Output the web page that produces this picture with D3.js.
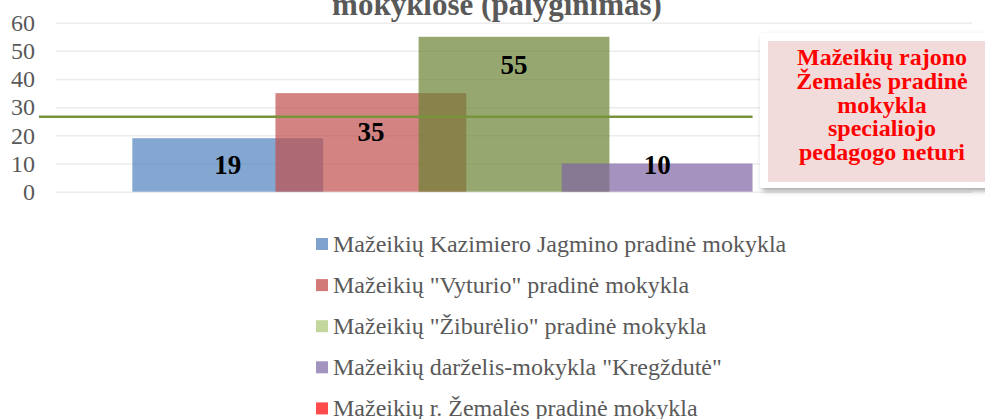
<!DOCTYPE html>
<html>
<head>
<meta charset="utf-8">
<script src="https://cdn.jsdelivr.net/npm/d3@7"></script>
<style>
  body { margin: 0; background: #fff; }
  svg { display: block; font-family: "Liberation Serif", "Times New Roman", serif; }
</style>
</head>
<body>
<div id="chart"></div>
<script>
var schools = [
    'Mažeikių Kazimiero Jagmino pradinė mokykla',
    'Mažeikių "Vyturio" pradinė mokykla',
    'Mažeikių "Žiburėlio" pradinė mokykla',
    'Mažeikių darželis-mokykla "Kregždutė"',
    'Mažeikių r. Žemalės pradinė mokykla'
]
var values = [19, 35, 55, 10, 0]
// where each data label sits, in value units (labels were placed by hand)
var labelAt = [9.5, 21.3, 45.2, 9.5, null]
var averageLine = 26.6
var yTicks = [0, 10, 20, 30, 40, 50, 60]
var noteLines = ['Mažeikių rajono', 'Žemalės pradinė', 'mokykla', 'specialiojo', 'pedagogo neturi']
var titleText = 'mokyklose (palyginimas)'

var barColors = ['rgba(79,129,189,0.7)', 'rgba(192,80,77,0.7)', 'rgba(105,131,51,0.7)', 'rgba(128,100,162,0.7)', 'rgba(255,0,0,0.7)']
var legendColors = ['#7fa3cd', '#d27a78', '#c3d69b', '#a393bf', '#ff4b4b']

var width = 985,
    height = 419,
    plot = {left: 56, right: 972, top: 22.7, bottom: 191.7}

var svg = d3.select('#chart').append('svg')
    .attr('width', width)
    .attr('height', height)

var defs = svg.append('defs')
defs.append('filter')
    .attr('id', 'shadow')
    .attr('x', '-10%').attr('y', '-10%')
    .attr('width', '130%').attr('height', '130%')
  .append('feDropShadow')
    .attr('dx', 2).attr('dy', 3)
    .attr('stdDeviation', 2.5)
    .attr('flood-color', '#000')
    .attr('flood-opacity', 0.35)

var y = d3.scaleLinear()
    .domain([0, 60])
    .range([plot.bottom, plot.top])

// one category, five overlapping series (25% overlap, 80% gap)
var cat = d3.scaleBand()
    .domain(['all'])
    .range([plot.left, plot.right])
    .paddingInner(0)
    .paddingOuter(0)

var n = values.length,
    overlap = 0.25,
    gap = 0.8,
    barW = cat.bandwidth() / (1 + (n - 1) * (1 - overlap) + gap),
    groupStart = cat('all') + barW * gap / 2

var x = d3.scaleLinear()
    .domain([0, 1])
    .range([groupStart, groupStart + barW * (1 - overlap)])

// title (upper lines are cut off by the frame)
svg.append('text')
    .attr('x', 497)
    .attr('y', 15)
    .attr('text-anchor', 'middle')
    .attr('font-size', 31)
    .attr('font-weight', 'bold')
    .attr('fill', '#595959')
    .text(titleText)

// gridlines + y labels
var yAxis = d3.axisLeft(y)
    .tickValues(yTicks)
    .tickSize(-(plot.right - plot.left))
    .tickPadding(21)

var gy = svg.append('g')
    .attr('transform', 'translate(' + plot.left + ',0)')
    .call(yAxis)
gy.select('.domain').remove()
gy.selectAll('.tick line')
    .attr('stroke', '#ececec')
    .attr('stroke-width', 1.5)
gy.selectAll('.tick text')
    .attr('font-family', '"Liberation Serif", serif')
    .attr('font-size', 24)
    .attr('fill', '#595959')

// bars
svg.append('g').selectAll('rect')
    .data(values)
    .join('rect')
    .attr('x', function(d, i) { return x(i) })
    .attr('width', barW)
    .attr('y', function(d) { return y(d) })
    .attr('height', function(d) { return y(0) - y(d) })
    .attr('fill', function(d, i) { return barColors[i] })

// average line
svg.append('line')
    .attr('x1', 39)
    .attr('x2', x(n - 2) + barW)
    .attr('y1', y(averageLine))
    .attr('y2', y(averageLine))
    .attr('stroke', '#77933c')
    .attr('stroke-width', 2.6)

// data labels
svg.append('g').selectAll('text')
    .data(values.filter(function(d, i) { return labelAt[i] != null }))
    .join('text')
    .attr('x', function(d, i) { return x(i) + barW / 2 })
    .attr('y', function(d, i) { return y(labelAt[i]) + 9.5 })
    .attr('text-anchor', 'middle')
    .attr('font-size', 27)
    .attr('font-weight', 'bold')
    .attr('fill', '#000')
    .text(function(d) { return d })

// note box
var note = svg.append('g')
note.append('rect')
    .attr('x', 760).attr('y', 33)
    .attr('width', 250).attr('height', 155)
    .attr('rx', 3)
    .attr('fill', '#fff')
    .attr('filter', 'url(#shadow)')
note.append('rect')
    .attr('x', 768).attr('y', 41)
    .attr('width', 240).attr('height', 141)
    .attr('fill', '#f2dcdb')
note.selectAll('text')
    .data(noteLines)
    .join('text')
    .attr('x', 882)
    .attr('y', function(d, i) { return 65 + i * 23.75 })
    .attr('text-anchor', 'middle')
    .attr('font-size', 24)
    .attr('font-weight', 'bold')
    .attr('fill', '#ff0000')
    .text(function(d) { return d })

// legend
var ly = d3.scaleLinear()
    .domain([0, 1])
    .range([244, 285.1])

var legend = svg.append('g').selectAll('g')
    .data(schools)
    .join('g')
    .attr('transform', function(d, i) { return 'translate(316,' + ly(i) + ')' })
legend.append('rect')
    .attr('x', 0).attr('y', -6)
    .attr('width', 12).attr('height', 12)
    .attr('fill', function(d, i) { return legendColors[i] })
legend.append('text')
    .attr('x', 17)
    .attr('y', 8)
    .attr('font-size', 24)
    .attr('fill', '#595959')
    .text(function(d) { return d })
</script>
</body>
</html>
